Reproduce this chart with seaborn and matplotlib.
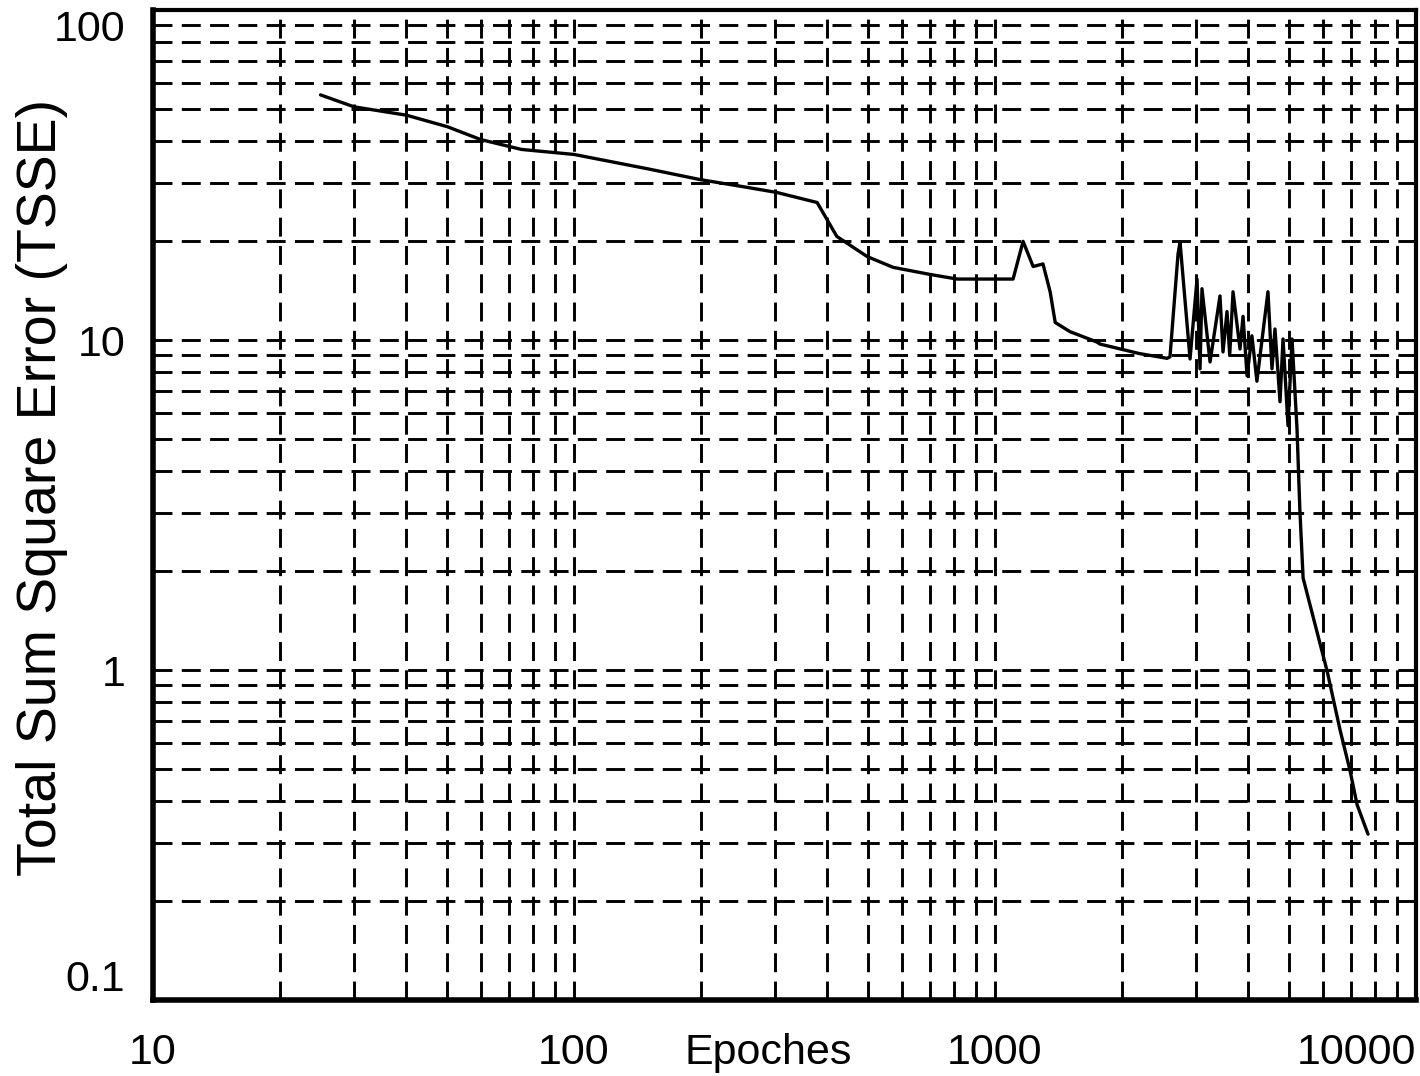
import numpy as np
import pandas as pd
import matplotlib
matplotlib.use("Agg")
import matplotlib.pyplot as plt
import matplotlib.ticker as mticker
import seaborn as sns

# ------- DATA ----------------------------------
epochs = [25, 30, 40, 50, 60, 75, 100, 150, 200, 250, 303, 378, 421, 497, 573,
          701, 813, 1104, 1166, 1232, 1300, 1352, 1390, 1507, 1746, 1776, 2200,
          2563, 2604, 2721, 2751, 2906, 3019, 3069, 3102, 3242, 3423, 3480, 3557,
          3610, 3676, 3819, 3883, 3969, 4076, 4189, 4450, 4549, 4624, 4753, 4832,
          4966, 5076, 5216, 5297, 5393, 6153, 6607, 6970, 7244, 7692]
tsse = [55.3, 50.9, 48.0, 44.3, 40.5, 37.8, 36.5, 33.0, 30.6, 29.2, 28.0, 26.1,
        20.6, 17.9, 16.6, 15.8, 15.3, 15.3, 19.9, 16.7, 17.0, 14.0, 11.3, 10.6,
        9.86, 9.72, 9.1, 8.8, 8.89, 18.2, 19.8, 8.76, 15.3, 8.18, 14.3, 8.58,
        13.6, 9.20, 12.2, 9.0, 14.0, 9.39, 11.8, 7.79, 10.3, 7.5, 14.0, 8.18,
        10.8, 6.50, 10.07, 5.50, 10.07, 5.39, 3.08, 1.90, 0.99, 0.655, 0.496,
        0.391, 0.318]

x_ticks = [10, 100, 1000, 10000]
x_labels = ["10", "100", "1000", "10000"]
y_ticks = [0.1, 1, 10, 100]
y_labels = ["0.1", "1", "10", "100"]

df = pd.DataFrame({"Epoches": epochs, "TSSE": tsse})

sns.set_style("white")
plt.rcParams['font.family'] = ['Liberation Sans', 'DejaVu Sans']

fig = plt.figure(figsize=(14.2, 10.76), dpi=100)
ax = fig.add_axes([153 / 1420, 1 - 1000 / 1076, 1263 / 1420, 990 / 1076])

sns.lineplot(data=df, x="Epoches", y="TSSE", color="black", linewidth=2.4,
             estimator=None, sort=False, ax=ax, zorder=3)

ax.set_xscale("log")
ax.set_yscale("log")
ax.set_xlim(10, 10000)
ax.set_ylim(0.1, 100)

ax.xaxis.set_major_locator(mticker.FixedLocator(x_ticks))
ax.xaxis.set_major_formatter(mticker.FixedFormatter(x_labels))
ax.yaxis.set_major_locator(mticker.FixedLocator(y_ticks))
ax.yaxis.set_major_formatter(mticker.FixedFormatter(y_labels))
ax.xaxis.set_minor_locator(mticker.LogLocator(base=10, subs=np.arange(2, 10)))
ax.yaxis.set_minor_locator(mticker.LogLocator(base=10, subs=np.arange(2, 10)))
ax.xaxis.set_minor_formatter(mticker.NullFormatter())
ax.yaxis.set_minor_formatter(mticker.NullFormatter())

ax.grid(True, which="both", color="black", linestyle=(0, (6.5, 3.2)),
        linewidth=2.1, zorder=1)

ax.tick_params(axis="both", which="major", direction="out", length=12,
               width=2.5, color="black", labelsize=31, labelcolor="black")
ax.tick_params(axis="x", which="major", pad=12)
ax.tick_params(axis="y", which="major", pad=8)
ax.tick_params(axis="both", which="minor", length=0)

# end labels are kept inside the figure, as in the reference
ax.get_xticklabels()[-1].set_horizontalalignment("right")
ylabs = ax.get_yticklabels()
ylabs[0].set_verticalalignment("bottom")
ylabs[-1].set_verticalalignment("top")

for side in ["left", "bottom"]:
    ax.spines[side].set_color("black")
    ax.spines[side].set_linewidth(4)
for side in ["top", "right"]:
    ax.spines[side].set_visible(True)
    ax.spines[side].set_color("black")
    ax.spines[side].set_linewidth(3)

ax.set_xlabel("Epoches", fontsize=31, color="black")
ax.xaxis.set_label_coords(0.487, -0.033)
ax.set_ylabel("Total Sum Square Error (TSSE)", fontsize=40, color="black")
ax.yaxis.set_label_coords(-0.067, 0.518)

fig.savefig("out.png", dpi=100, facecolor="white")
